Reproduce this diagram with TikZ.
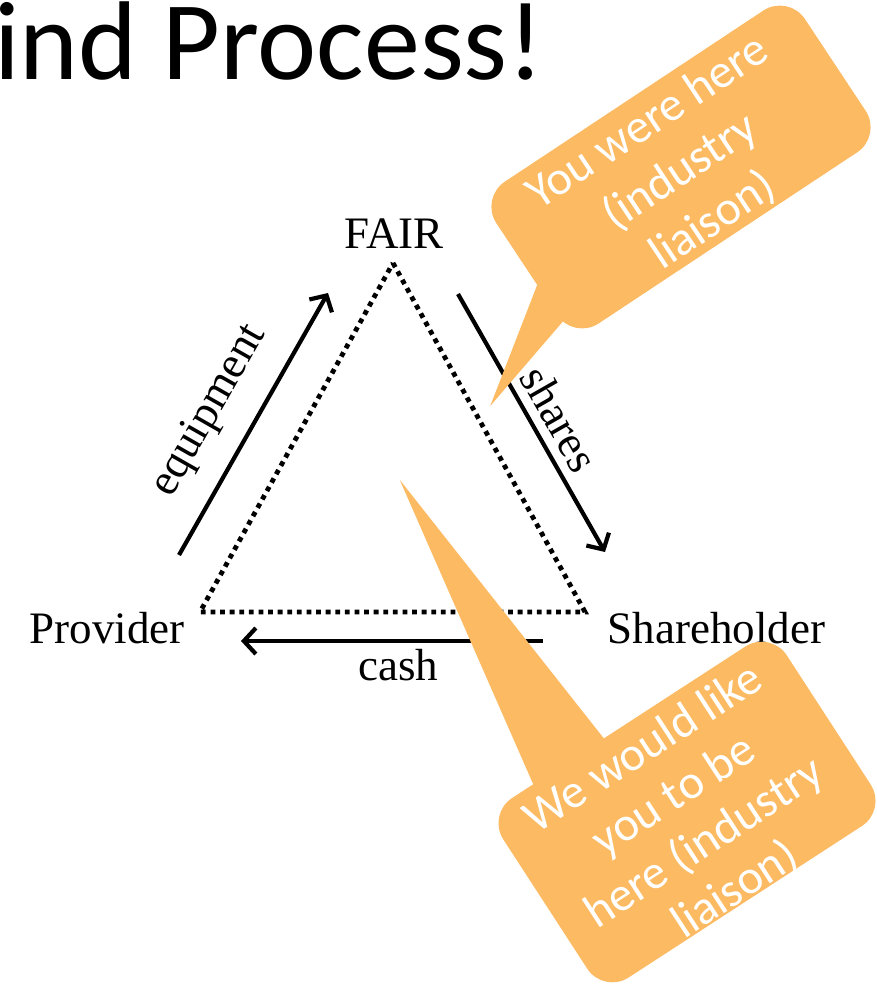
\documentclass[tikz,border=0pt]{standalone}
\usepackage{fontspec}
\setmainfont{Liberation Serif}
\newfontfamily\calib{Carlito}
\usetikzlibrary{arrows.meta}
\definecolor{callout}{RGB}{252,187,99}
\begin{document}
\begin{tikzpicture}[x=1pt,y=-1pt,
  lbl/.style={font=\fontsize{45}{50}\selectfont, inner sep=0pt},
  flow/.style={line width=4.2pt, -{Straight Barb[length=12pt,width=26pt]}},
  dots/.style={line width=4.8pt, dash pattern=on 4.8pt off 4.8pt},
  bubtext/.style={font=\calib\fontsize{48}{59}\selectfont, text=white, align=center, inner sep=0pt, transform shape},
  bub/.style={fill=callout, rounded corners=30pt},
  bubtail/.style={fill=callout}
]
\useasboundingbox (0,0) rectangle (876,1006);
\clip (0,0) rectangle (876,1006);

% title
\node[anchor=base west, inner sep=0pt, font=\calib\fontsize{112}{124}\selectfont] (title) at (-6,80) {ind Process!};

% triangle
\coordinate (A) at (393,263);
\coordinate (B) at (200,612);
\coordinate (C) at (585,612);
\draw[dots] (A) -- (C) -- (B) -- cycle;

% labels
\node[lbl, anchor=base] (fair) at (394,248) {FAIR};
\node[lbl, anchor=base] (prov) at (107,643) {Provider};
\node[lbl, anchor=base] (share) at (716.5,643) {Shareholder};
\node[lbl, anchor=base] (cash) at (398.5,680) {cash};
\node[lbl, rotate=60.4] (equip) at (210,411) {equipment};
\node[lbl, rotate=-60.3] (shr) at (560,419) {shares};

% arrows
\coordinate (e1) at (179,555);
\coordinate (e2) at (328,293);
\draw[flow] (e1) -- (e2);
\coordinate (s1) at (458,294);
\coordinate (s2) at (605,552);
\draw[flow] (s1) -- (s2);
\coordinate (c1) at (543,641);
\coordinate (c2) at (241,641);
\draw[flow] (c1) -- (c2);

% callout 1
\begin{scope}[shift={(681,167)}, rotate=33.5]
  \fill[bub] (-185,-85) rectangle (185,85);
  \fill[bubtail] (-178,14) -- (-291,94) -- (-178,62) -- cycle;
  \node[bubtext] (b1) at (-3,4) {You were here\\(industry\\liaison)};
\end{scope}

% callout 2
\begin{scope}[shift={(687,812)}, rotate=33]
  \fill[bub] (-169,-107) rectangle (169,107);
  \fill[bubtail] (-115,-100) -- (-60,-435) -- (-29,-100) -- cycle;
  \node[bubtext, font=\calib\fontsize{48}{56}\selectfont] (b2) at (-2,8) {We would like\\you to be\\here (industry\\liaison)};
\end{scope}
\end{tikzpicture}
\end{document}
